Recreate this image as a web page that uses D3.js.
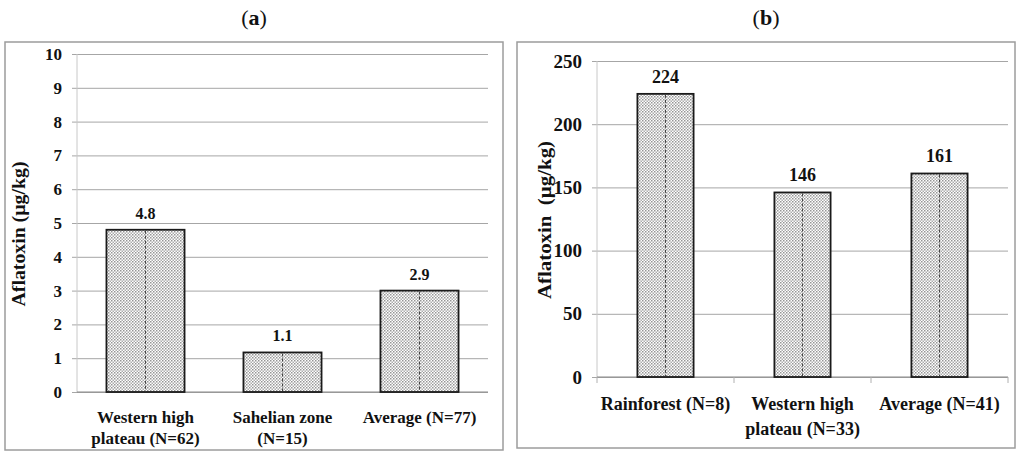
<!DOCTYPE html>
<html>
<head>
<meta charset="utf-8">
<script src="https://cdn.jsdelivr.net/npm/d3@7"></script>
<style>
    body { margin: 0; background: #fff; }
</style>
</head>
<body>
<div id="chart"></div>
<script>
// panel (a)
const categoriesA = [['Western high', 'plateau (N=62)'], ['Sahelian zone', '(N=15)'], ['Average (N=77)']];
const valuesA = [4.8, 1.17, 3.0];
const labelsA = ['4.8', '1.1', '2.9'];
const ticksA = [0, 1, 2, 3, 4, 5, 6, 7, 8, 9, 10];

// panel (b)
const categoriesB = [['Rainforest (N=8)'], ['Western high', 'plateau (N=33)'], ['Average (N=41)']];
const valuesB = [224, 146, 161];
const labelsB = ['224', '146', '161'];
const ticksB = [0, 50, 100, 150, 200, 250];

const FONT = "'Liberation Serif'";

const svg = d3.select('#chart').append('svg')
    .attr('width', 1024)
    .attr('height', 454);

const defs = svg.append('defs');
const pat = defs.append('pattern')
    .attr('id', 'dots')
    .attr('patternUnits', 'userSpaceOnUse')
    .attr('width', 3)
    .attr('height', 3);
pat.append('rect').attr('width', 3).attr('height', 3).attr('fill', '#fff');
pat.append('rect').attr('width', 1.5).attr('height', 1.5).attr('fill', '#959595');
pat.append('rect').attr('x', 1.5).attr('y', 1.5).attr('width', 1.5).attr('height', 1.5).attr('fill', '#adadad');

drawPanel({
    title: 'a', box: [5, 42, 503, 450],
    left: 77, right: 488, top: 54, bottom: 392,
    max: 10, ticks: ticksA, padding: 0.43,
    categories: categoriesA, values: valuesA, labels: labelsA,
    yTitle: 'Aflatoxin (µg/kg)', yTitleX: 19, yTitleY: 234, yStretch: 1.1,
    tickSize: 17, catSize: 17, labelSize: 16, yTitleSize: 18,
    catY: 423, catGap: 21, catTicks: false
});

drawPanel({
    title: 'b', box: [517, 42, 1015, 448],
    left: 597, right: 1008, top: 61, bottom: 377,
    max: 250, ticks: ticksB, padding: 0.59,
    categories: categoriesB, values: valuesB, labels: labelsB,
    yTitle: 'Aflatoxin  (µg/kg)', yTitleX: 545, yTitleY: 220, yStretch: 1.16,
    tickSize: 19, catSize: 18, labelSize: 18, yTitleSize: 18,
    catY: 410, catGap: 25, catTicks: true
});

function label(sel, size) {
    return sel.attr('font-family', FONT)
        .attr('font-weight', 'bold')
        .attr('font-size', size)
        .attr('fill', '#111');
}

function drawPanel(p) {
    const [bx0, by0, bx1, by1] = p.box;
    const g = svg.append('g');

    g.append('rect')
        .attr('x', bx0).attr('y', by0)
        .attr('width', bx1 - bx0).attr('height', by1 - by0)
        .attr('fill', 'none')
        .attr('stroke', '#9c9c9c')
        .attr('stroke-width', 1.5);

    const title = g.append('text')
        .attr('x', (bx0 + bx1) / 2)
        .attr('y', 25)
        .attr('text-anchor', 'middle')
        .call(label, 22);
    title.append('tspan').attr('font-weight', 'normal').text('(');
    title.append('tspan').text(p.title);
    title.append('tspan').attr('font-weight', 'normal').text(')');

    const y = d3.scaleLinear().domain([0, p.max]).range([p.bottom, p.top]);
    const x = d3.scaleBand()
        .domain(p.categories.map((c, i) => i))
        .range([p.left, p.right])
        .paddingInner(p.padding)
        .paddingOuter(p.padding / 2);

    // gridlines with short outside ticks
    g.append('g')
        .attr('transform', `translate(${p.left},0)`)
        .call(d3.axisLeft(y).tickValues(p.ticks).tickSize(-(p.right - p.left)).tickFormat(''))
        .call(a => a.select('.domain').remove())
        .call(a => a.selectAll('line').attr('stroke', '#a6a6a6').attr('x1', -5));

    // y tick labels
    g.selectAll('.ytick')
        .data(p.ticks)
        .enter()
        .append('text')
        .attr('x', p.left - 15)
        .attr('y', d => y(d))
        .attr('dy', '0.35em')
        .attr('text-anchor', 'end')
        .call(label, p.tickSize)
        .text(d => d);

    // y axis line
    g.append('line')
        .attr('x1', p.left).attr('x2', p.left)
        .attr('y1', p.top).attr('y2', p.bottom)
        .attr('stroke', '#c8c8c8');

    // x axis line
    g.append('line')
        .attr('x1', p.left).attr('x2', p.right)
        .attr('y1', p.bottom).attr('y2', p.bottom)
        .attr('stroke', '#8a8a8a')
        .attr('stroke-width', 1.2);

    if (p.catTicks) {
        const step = x.step();
        g.selectAll('.xtick')
            .data(d3.range(p.categories.length + 1))
            .enter()
            .append('line')
            .attr('x1', i => p.left + i * step)
            .attr('x2', i => p.left + i * step)
            .attr('y1', p.bottom)
            .attr('y2', p.bottom + 6)
            .attr('stroke', '#b0b0b0');
    }

    // bars
    const bars = g.selectAll('.bar')
        .data(p.values)
        .enter()
        .append('g');

    bars.append('rect')
        .attr('x', (d, i) => x(i))
        .attr('y', d => y(d))
        .attr('width', x.bandwidth())
        .attr('height', d => p.bottom - y(d))
        .attr('fill', 'url(#dots)')
        .attr('stroke', '#1a1a1a')
        .attr('stroke-width', 1.8);

    bars.append('line')
        .attr('x1', (d, i) => x(i) + x.bandwidth() / 2)
        .attr('x2', (d, i) => x(i) + x.bandwidth() / 2)
        .attr('y1', d => y(d) + 1)
        .attr('y2', p.bottom)
        .attr('stroke', '#333')
        .attr('stroke-width', 0.9)
        .attr('stroke-dasharray', '3,2');

    bars.append('text')
        .attr('x', (d, i) => x(i) + x.bandwidth() / 2)
        .attr('y', d => y(d) - 11)
        .attr('text-anchor', 'middle')
        .call(label, p.labelSize)
        .text((d, i) => p.labels[i]);

    // category labels
    const cats = g.selectAll('.cat')
        .data(p.categories)
        .enter()
        .append('text')
        .attr('text-anchor', 'middle')
        .call(label, p.catSize);
    cats.selectAll('tspan')
        .data((lines, i) => lines.map(l => ({ l, i })))
        .enter()
        .append('tspan')
        .attr('x', d => x(d.i) + x.bandwidth() / 2)
        .attr('y', (d, j) => p.catY + j * p.catGap)
        .text(d => d.l);

    // y title, stretched along its length like the source image
    g.append('text')
        .attr('transform', `translate(${p.yTitleX},${p.yTitleY}) rotate(-90) scale(${p.yStretch},1)`)
        .attr('text-anchor', 'middle')
        .attr('dy', '0.35em')
        .call(label, p.yTitleSize)
        .style('white-space', 'pre')
        .text(p.yTitle);
}
</script>
</body>
</html>
